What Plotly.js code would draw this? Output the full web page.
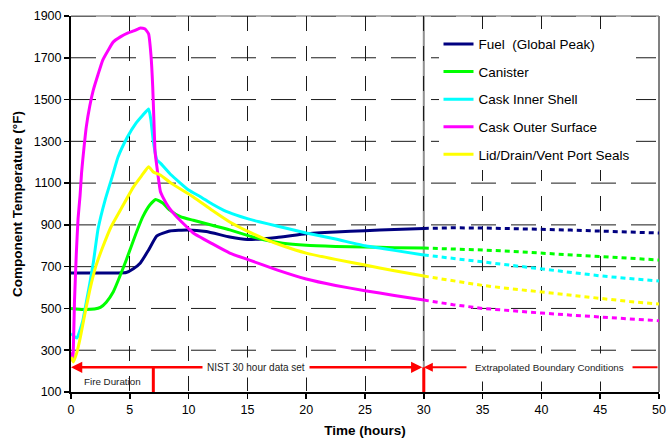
<!DOCTYPE html>
<html>
<head>
<meta charset="utf-8">
<script src="https://cdn.plot.ly/plotly-3.0.1.min.js"></script>
<style>html,body{margin:0;padding:0;background:#fff;}#chart{width:667px;height:444px;}</style>
</head>
<body>
<div id="chart"></div>
<script>
// ---- Data ----
const seriesNames = ["Fuel  (Global Peak)", "Canister", "Cask Inner Shell", "Cask Outer Surface", "Lid/Drain/Vent Port Seals"];
const seriesColors = ["#000080", "#00FF00", "#00FFFF", "#FF00FF", "#FFFF00"];

// NIST 30 hour data set (solid)
const fuelT = [0, 2, 4, 4.7, 5.3, 5.9, 6.6, 7.3, 8.4, 9.9, 11.5, 13.5, 15, 17.5, 20, 22.5, 25, 27.5, 30];
const fuelV = [670, 670, 670, 672, 690, 718, 780, 847, 871, 876, 868, 842, 830, 840, 858, 866, 872, 878, 883];

const canT = [0, 1, 2, 2.5, 3, 3.6, 4.2, 4.7, 5.4, 6.1, 6.7, 7.2, 7.8, 8.4, 9.3, 10.4, 12, 13.5, 15, 16.3, 18, 20, 22.5, 25, 27.5, 30];
const canV = [500, 495, 497, 505, 530, 580, 660, 732, 840, 938, 995, 1022, 1005, 971, 940, 922, 898, 876, 850, 830, 812, 802, 797, 794, 791, 789];

const innerT = [0, 0.5, 1, 1.3, 1.6, 1.9, 2.3, 2.9, 3.5, 4.0, 4.8, 5.5, 6.1, 6.6, 6.8, 7.0, 7.3, 7.6, 8.5, 10, 11, 12, 13, 14, 15, 16, 17.5, 20, 22.5, 25, 27.5, 30];
const innerV = [380, 358, 440, 530, 620, 720, 880, 1019, 1130, 1225, 1321, 1385, 1425, 1455, 1400, 1300, 1211, 1196, 1140, 1067, 1035, 1000, 970, 948, 930, 915, 895, 861, 832, 800, 778, 756];

const outerT = [0, 0.15, 0.3, 0.45, 0.6, 0.77, 0.9, 1.0, 1.3, 1.6, 1.9, 2.3, 2.7, 3.2, 3.6, 4.2, 4.85, 5.4, 5.9, 6.3, 6.6, 6.8, 6.95, 7.05, 7.15, 7.3, 7.6, 7.8, 8.3, 9.0, 10.4, 12, 13.5, 15, 17.5, 20, 22.5, 25, 27.5, 30];
const outerV = [290, 250, 540, 760, 930, 1040, 1150, 1211, 1369, 1470, 1546, 1620, 1689, 1740, 1776, 1800, 1819, 1830, 1843, 1838, 1814, 1713, 1560, 1400, 1250, 1180, 1060, 1034, 985, 938, 861, 810, 765, 735, 685, 641, 610, 585, 562, 540];

const sealT = [0, 0.2, 0.5, 0.8, 1.2, 1.6, 2.1, 2.7, 3.4, 4.2, 5.3, 6.0, 6.6, 7.0, 7.6, 8.5, 10.4, 12, 13.5, 15, 16.3, 18, 20, 22.5, 25, 27.5, 30];
const sealV = [268, 244, 290, 363, 480, 588, 700, 794, 890, 971, 1081, 1135, 1178, 1153, 1139, 1100, 1034, 970, 914, 870, 837, 800, 765, 735, 708, 680, 655];

// Extrapolated boundary conditions (dotted)
const extT = [30, 32.5, 35, 37.5, 40, 42.5, 45, 47.5, 50];
const fuelExt  = [883, 886, 885, 883, 879, 875, 871, 866, 861];
const canExt   = [789, 785, 780, 773, 765, 756, 747, 739, 732];
const innerExt = [756, 741, 723, 706, 689, 672, 656, 643, 631];
const outerExt = [540, 518, 500, 488, 478, 468, 459, 450, 441];
const sealExt  = [655, 632, 610, 594, 579, 562, 546, 533, 521];

// Axis ticks
const xTicks = [0, 5, 10, 15, 20, 25, 30, 35, 40, 45, 50];
const yTicks = [100, 300, 500, 700, 900, 1100, 1300, 1500, 1700, 1900];

// Annotation values
const arrowLevel = 218;
const fireEnd = 7;
const nistEnd = 30;

// ---- Build traces ----
const solidT = [fuelT, canT, innerT, outerT, sealT];
const solidV = [fuelV, canV, innerV, outerV, sealV];
const extV = [fuelExt, canExt, innerExt, outerExt, sealExt];
const xMin = xTicks[0], xMax = xTicks[xTicks.length - 1];

const traces = [];

// Horizontal dashed grid, built from the y tick array
const gx = [], gy = [];
yTicks.filter(v => v > yTicks[0]).forEach(v => { gx.push(xMin, xMax, null); gy.push(v, v, null); });
traces.push({
  x: gx, y: gy, type: 'scatter', mode: 'lines', connectgaps: false,
  line: {color: '#1a1a1a', width: 1, dash: '25px,15px'},
  showlegend: false, hoverinfo: 'skip'
});

for (let i = 0; i < seriesNames.length; i++) {
  traces.push({
    x: extT, y: extV[i], type: 'scatter', mode: 'lines',
    line: {color: seriesColors[i], width: 3, dash: '5px,4px'},
    showlegend: false, hoverinfo: 'skip'
  });
}
for (let i = 0; i < seriesNames.length; i++) {
  traces.push({
    x: solidT[i], y: solidV[i], type: 'scatter', mode: 'lines',
    name: seriesNames[i], legendgroup: 'g' + i, legendrank: i + 1,
    line: {color: seriesColors[i], width: 3, shape: 'spline', smoothing: 0.4}
  });
}

const FONT = '"Liberation Sans", Arial, sans-serif';

const layout = {
  width: 667, height: 444,
  margin: {l: 71, r: 8, t: 16, b: 52},
  paper_bgcolor: '#ffffff', plot_bgcolor: '#ffffff',
  font: {family: FONT, size: 12, color: '#000'},
  showlegend: true,
  legend: {
    x: 0.625, y: 0.966, xanchor: 'left', yanchor: 'top',
    bgcolor: '#ffffff', borderwidth: 0,
    font: {family: FONT, size: 13.5, color: '#000'},
    traceorder: 'grouped', tracegroupgap: 7
  },
  xaxis: {
    range: [xMin, xMax], tickvals: xTicks, ticktext: xTicks.map(String),
    showline: true, linecolor: '#000', linewidth: 2,
    ticks: 'outside', ticklen: 5, tickwidth: 1.5, tickcolor: '#000',
    showgrid: true, gridcolor: '#1a1a1a', gridwidth: 1, griddash: 'longdash',
    zeroline: false,
    tickfont: {family: FONT, size: 12.5, color: '#000'},
    title: {text: '<b>Time (hours)</b>', font: {family: FONT, size: 13.5, color: '#000'}, standoff: 10}
  },
  yaxis: {
    range: [100, 1900], tickvals: yTicks, ticktext: yTicks.map(String),
    showline: true, linecolor: '#000', linewidth: 2,
    ticks: 'outside', ticklen: 5, tickwidth: 1.5, tickcolor: '#000',
    showgrid: false, zeroline: false,
    tickfont: {family: FONT, size: 12.5, color: '#000'},
    title: {text: '<b>Component Temperature (°F)</b>', font: {family: FONT, size: 13.5, color: '#000'}, standoff: 8}
  },
  shapes: [
    {type: 'line', xref: 'paper', yref: 'paper', x0: 0, x1: 1, y0: 1, y1: 1, line: {color: '#b0b0b0', width: 2}, layer: 'below'},
    {type: 'line', xref: 'paper', yref: 'paper', x0: 1, x1: 1, y0: 0, y1: 1, line: {color: '#808080', width: 2}, layer: 'below'},
    {type: 'line', xref: 'x', yref: 'paper', x0: nistEnd, x1: nistEnd, y0: 0, y1: 1, line: {color: '#909090', width: 2}, layer: 'below'},
    {type: 'line', xref: 'x', yref: 'y', x0: fireEnd, x1: fireEnd, y0: 100, y1: arrowLevel, line: {color: '#FF0000', width: 3}},
    {type: 'line', xref: 'x', yref: 'y', x0: nistEnd, x1: nistEnd, y0: 100, y1: arrowLevel, line: {color: '#FF0000', width: 3}}
  ],
  annotations: [
    {x: 0, y: arrowLevel, ax: nistEnd, ay: arrowLevel, xref: 'x', yref: 'y', axref: 'x', ayref: 'y',
     text: '', showarrow: true, arrowside: 'end+start', arrowhead: 2, arrowsize: 0.9, arrowwidth: 2.5, arrowcolor: '#FF0000', standoff: 0, startstandoff: 0},
    {x: nistEnd, y: arrowLevel, ax: 50, ay: arrowLevel, xref: 'x', yref: 'y', axref: 'x', ayref: 'y',
     text: '', showarrow: true, arrowhead: 2, arrowsize: 0.9, arrowwidth: 2, arrowcolor: '#FF0000', standoff: 0},
    {x: 15.7, y: arrowLevel, xref: 'x', yref: 'y', text: 'NIST 30 hour data set', showarrow: false,
     bgcolor: '#ffffff', borderpad: 4, font: {family: FONT, size: 10, color: '#222'}},
    {x: 40.7, y: arrowLevel, xref: 'x', yref: 'y', text: 'Extrapolated Boundary Conditions', showarrow: false,
     bgcolor: '#ffffff', borderpad: 8, font: {family: FONT, size: 9.8, color: '#222'}},
    {x: 3.5, y: 148, xref: 'x', yref: 'y', text: 'Fire Duration', showarrow: false,
     font: {family: FONT, size: 9.8, color: '#222'}}
  ]
};

Plotly.newPlot('chart', traces, layout, {displayModeBar: false, staticPlot: true});
</script>
</body>
</html>
